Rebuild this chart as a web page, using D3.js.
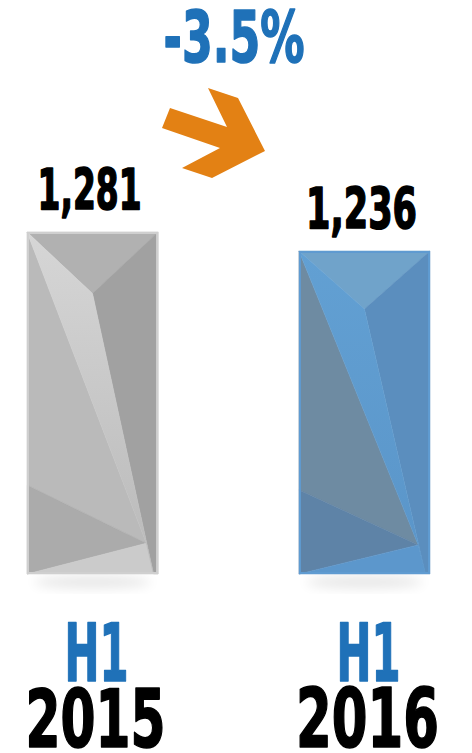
<!DOCTYPE html>
<html>
<head>
<meta charset="utf-8">
<script src="https://cdn.jsdelivr.net/npm/d3@7"></script>
<style>
  body { margin: 0; background: #fff; }
  text { font-family: "DejaVu Sans Condensed", "DejaVu Sans", sans-serif; font-weight: bold; }
</style>
</head>
<body>
<script>
// chart data
const periods = ['H1', 'H1'];
const years = ['2015', '2016'];
const values = [1281, 1236];
const changeLabel = '-3.5%';

const W = 472, H = 753;
const BASE = 574;

// the original uses a very condensed heavy face; squeeze each label to its width
const labelWidths = {
    value: [104, 111],
    period: [64, 64],
    year: [140, 143],
    change: 141
};

const svg = d3.select('body').append('svg')
    .attr('width', W)
    .attr('height', H);

const x = d3.scaleBand()
    .domain(years)
    .range([27, 430])
    .paddingInner(0.518)
    .paddingOuter(0);

// value axis doesn't start at zero in the original
const y = d3.scaleLinear()
    .domain([470, 1281])
    .range([BASE, 232]);

const defs = svg.append('defs');
defs.append('filter').attr('id', 'blur')
    .attr('x', '-50%').attr('y', '-50%').attr('width', '200%').attr('height', '200%')
    .append('feGaussianBlur').attr('stdDeviation', 6);

// facet colours for each bar
const palettes = [
    { top: '#b1b1b1', right: '#a1a1a1', stripA: '#d6d6d6', stripB: '#b9b9b9', left: '#bababa', botLeft: '#ababab', bottom: '#cbcbcb', border: '#cfcfcf' },
    { top: '#70a3ca', right: '#5b8ebe', stripA: '#62a0d3', stripB: '#5a95c9', left: '#6e8ba2', botLeft: '#5e83a7', bottom: '#5c97cc', border: '#5f9bd1' }
];

palettes.forEach((p, i) => {
    const g = defs.append('linearGradient').attr('id', 'strip' + i)
        .attr('x1', 0).attr('y1', 0).attr('x2', 0).attr('y2', 1);
    g.append('stop').attr('offset', '0%').attr('stop-color', p.stripA);
    g.append('stop').attr('offset', '100%').attr('stop-color', p.stripB);
});

const bars = svg.append('g').selectAll('g')
    .data(values)
    .join('g');

// soft shadow under each bar
bars.append('ellipse')
    .attr('cx', (d, i) => x(years[i]) + x.bandwidth() / 2)
    .attr('cy', BASE + 8)
    .attr('rx', x.bandwidth() * 0.45)
    .attr('ry', 6)
    .attr('fill', '#000')
    .attr('opacity', 0.1)
    .attr('filter', 'url(#blur)');

bars.each(function (d, i) {
    const g = d3.select(this);
    const p = palettes[i];
    const x0 = x(years[i]), w = x.bandwidth();
    const y0 = y(d), h = BASE - y0;
    const P = (fx, fy) => [x0 + fx * w, y0 + fy * h];
    const facets = [
        { pts: [P(0, 0), P(1, 0), P(0.5, 0.18)], fill: p.top },
        { pts: [P(0.5, 0.18), P(1, 0), P(1, 1), P(0.965, 1)], fill: p.right },
        { pts: [P(0, 0), P(0.91, 0.91), P(0, 0.74)], fill: p.left },
        { pts: [P(0, 0.74), P(0.91, 0.91), P(0, 1)], fill: p.botLeft },
        { pts: [P(0, 1), P(0.91, 0.91), P(0.965, 1)], fill: p.bottom },
        { pts: [P(0, 0), P(0.5, 0.18), P(0.965, 1), P(0.91, 0.91)], fill: `url(#strip${i})` }
    ];
    g.selectAll('polygon')
        .data(facets)
        .join('polygon')
        .attr('points', f => f.pts.map(q => q.join(',')).join(' '))
        .attr('fill', f => f.fill)
        .attr('stroke', f => f.fill)
        .attr('stroke-width', 0.5);
    g.append('rect')
        .attr('x', x0 + 1)
        .attr('y', y0 + 1)
        .attr('width', w - 2)
        .attr('height', h - 2)
        .attr('fill', 'none')
        .attr('stroke', p.border)
        .attr('stroke-width', 2);
});

// squeeze a text horizontally around its anchor so it fits `width`
function squeeze(text, cx, cy, width) {
    const natural = text.node().getComputedTextLength();
    text.attr('x', 0).attr('y', 0)
        .attr('transform', `translate(${cx},${cy}) scale(${width / natural},1)`);
}

function heavy(sel, color) {
    sel.attr('fill', color)
        .attr('stroke', color)
        .attr('stroke-width', 1.6)
        .attr('stroke-linejoin', 'round')
        .attr('text-anchor', 'middle');
}

// value labels
svg.append('g').selectAll('text')
    .data(values)
    .join('text')
    .attr('font-size', 57)
    .call(heavy, '#000')
    .text(d => d3.format(',')(d))
    .each(function (d, i) {
        squeeze(d3.select(this), x(years[i]) + x.bandwidth() / 2 - 3, y(d) - 22, labelWidths.value[i]);
    });

// period labels
svg.append('g').selectAll('text')
    .data(periods)
    .join('text')
    .attr('font-size', 80)
    .call(heavy, '#1f71b8')
    .text(d => d)
    .each(function (d, i) {
        squeeze(d3.select(this), x(years[i]) + x.bandwidth() / 2 + 4, 681, labelWidths.period[i]);
    });

svg.append('g').selectAll('text')
    .data(years)
    .join('text')
    .attr('font-size', 81)
    .call(heavy, '#000')
    .text(d => d)
    .each(function (d, i) {
        squeeze(d3.select(this), x(d) + x.bandwidth() / 2 + 3, 747, labelWidths.year[i]);
    });

// change label and arrow
svg.append('text')
    .attr('font-size', 72)
    .call(heavy, '#1f71b8')
    .text(changeLabel)
    .call(t => squeeze(t, 234, 62, labelWidths.change));

const arrow = [[170, 108], [227, 127], [208, 88], [238, 98], [265, 151], [212, 178], [182, 168], [220, 148], [162, 128]];
svg.append('polygon')
    .attr('points', arrow.map(q => q.join(',')).join(' '))
    .attr('fill', '#e38114');
</script>
</body>
</html>
